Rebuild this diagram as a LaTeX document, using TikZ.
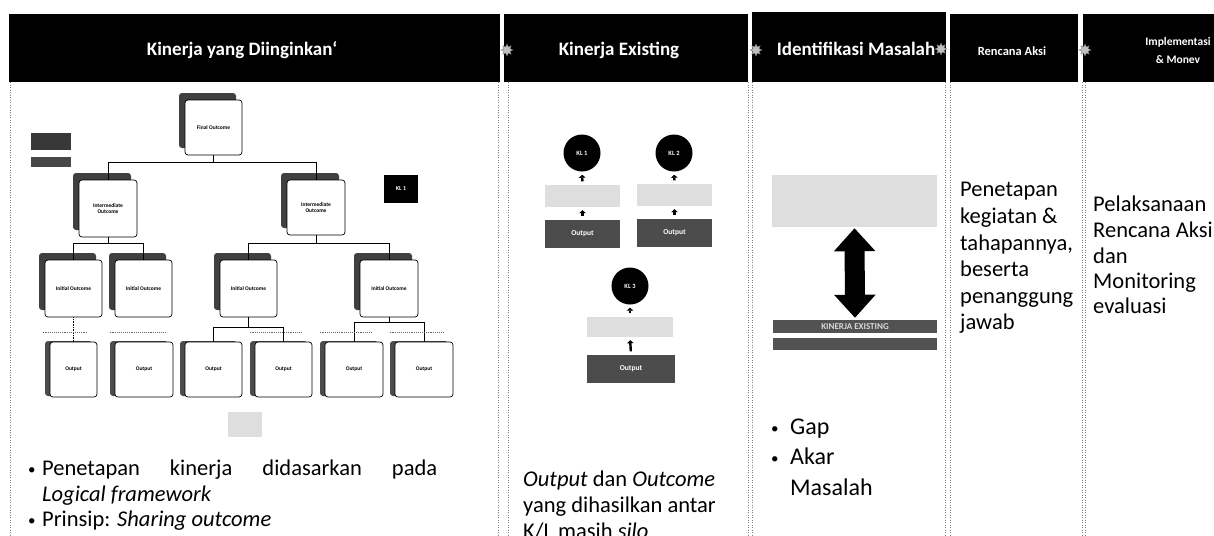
\documentclass[tikz,border=0pt]{standalone}
\usepackage{fontspec}
\setmainfont{Carlito}
\usetikzlibrary{shapes.geometric,shadows,arrows.meta,calc}
\newcommand{\smbul}{{\fontsize{15}{15}\selectfont\raisebox{0.5pt}{•}}}
\begin{document}
\begin{tikzpicture}[x=1pt,y=-1pt,
  hdr/.style={fill=black,draw=none,inner sep=0pt},
  hdrtxt/.style={text=white,font=\bfseries\fontsize{19}{22}\selectfont,inner sep=0pt},
  hdrsmall/.style={text=white,font=\bfseries\fontsize{12.5}{15}\selectfont,inner sep=0pt},
  colline/.style={draw=black!50,dotted,line width=0.5pt},
  card/.style={draw=black,fill=white,rounded corners=3pt,line width=0.7pt,inner sep=1pt,align=center,
     font=\bfseries\fontsize{5.5}{6.5}\selectfont,
     copy shadow={shadow xshift=-6pt,shadow yshift=7pt,fill=black!75,draw=none}},
  outcard/.style={draw=black,fill=white,rounded corners=3pt,line width=0.7pt,inner sep=1pt,align=center,
     font=\bfseries\fontsize{5.5}{6.5}\selectfont,minimum height=55pt,
     copy shadow={shadow xshift=-5pt,shadow yshift=1pt,fill=black!70,draw=none}},
  conn/.style={draw=black,line width=0.6pt},
  lbl/.style={draw=black!60,densely dotted,line width=0.9pt},
  klc/.style={circle,fill=black,minimum size=37pt,inner sep=0pt,text=white,font=\bfseries\fontsize{6.5}{7}\selectfont},
  noise/.style={fill=black!13,draw=none,inner sep=0pt},
  darkbox/.style={fill=black!70,draw=none,inner sep=0pt,text=white,font=\bfseries\fontsize{7.5}{8}\selectfont},
  smallarr/.style={line width=2.4pt,-{Triangle[length=3pt,width=6.5pt]},shorten <=3.5pt,shorten >=3pt},
  dbl/.style={line width=20pt,{Triangle[length=23pt,width=40pt]}-{Triangle[length=23pt,width=40pt]},shorten <=1pt,shorten >=2pt},
  starico/.style={star,star points=8,star point ratio=1.8,minimum size=12pt,inner sep=0pt,fill=black!25,draw=black!55,line width=0.3pt},
  body/.style={font=\fontsize{22.5}{26}\selectfont,inner sep=0pt},
  bodyb/.style={font=\fontsize{24}{29}\selectfont,inner sep=0pt}
]
\useasboundingbox (0,0) rectangle (1214,535);
\fill[white] (0,0) rectangle (1214,535);

% column separators
\foreach \xx in {10,498,508,748,752,945,950,1082,1085}
  \draw[colline] (\xx,82) -- (\xx,535);

% headers
\node[hdr,minimum width=491pt,minimum height=68pt] (h1) at (254.5,48) {};
\node[hdr,minimum width=244pt,minimum height=68pt] (h2) at (626,48) {};
\node[hdr,minimum width=194pt,minimum height=70pt] (h3) at (849,47) {};
\node[hdr,minimum width=128pt,minimum height=68pt] (h4) at (1014,48) {};
\node[hdr,minimum width=131pt,minimum height=68pt] (h5) at (1148.5,48) {};
\node[hdrtxt] (h1t) at (242,50) {Kinerja yang Diinginkan\symbol{96}};
\node[hdrtxt] (h2t) at (619,50) {Kinerja Existing};
\node[hdrtxt] (h3t) at (856,49) {Identifikasi Masalah};
\node[hdrsmall] (h4t) at (1012,51) {Rencana Aksi};
\node[text=white,font=\bfseries\fontsize{11.5}{18}\selectfont,inner sep=0pt,align=center] (h5t) at (1178,51) {Implementasi\\\& Monev};

% star icons between headers
\node[starico] (s1) at (507,50) {};
\node[starico] (s2) at (756,50) {};
\node[starico] (s3) at (941,49) {};
\node[starico] (s4) at (1085,50) {};

% ---------- column 1: logical framework ----------
\node[fill=black!78,minimum width=40pt,minimum height=17pt,inner sep=0pt] (lab1) at (51,141.5) {};
\node[fill=black!72,minimum width=40pt,minimum height=10pt,inner sep=0pt] (lab2) at (51,162) {};
\node[fill=black,minimum width=34pt,minimum height=28pt,inner sep=0pt,text=white,font=\bfseries\fontsize{6}{7}\selectfont] (kl1sq) at (401,189) {KL 1};

\node[card,minimum width=57pt,minimum height=55pt] (fo) at (213.5,127.5) {Final Outcome};
\node[card,minimum width=58pt,minimum height=57pt] (il) at (108,208.5) {Intermediate\\Outcome};
\node[card,minimum width=58pt,minimum height=55pt] (ir) at (316,207.5) {Intermediate\\Outcome};
\node[card,minimum width=57pt,minimum height=57pt] (i1) at (73.5,288.5) {Initial Outcome};
\node[card,minimum width=57pt,minimum height=57pt] (i2) at (143.5,288.5) {Initial Outcome};
\node[card,minimum width=57pt,minimum height=57pt] (i3) at (248.5,288.5) {Initial Outcome};
\node[card,minimum width=58pt,minimum height=57pt] (i4) at (389,288.5) {Initial Outcome};

\node[outcard,minimum width=47pt] (o1) at (73.5,369.5) {Output};
\node[outcard,minimum width=58pt] (o2) at (144,369.5) {Output};
\node[outcard,minimum width=57pt] (o3) at (213.5,369.5) {Output};
\node[outcard,minimum width=57pt] (o4) at (283.5,369.5) {Output};
\node[outcard,minimum width=58pt] (o5) at (354,369.5) {Output};
\node[outcard,minimum width=58pt] (o6) at (424,369.5) {Output};

\draw[conn] (fo.south) -- ++(0,7) -| (il.north);
\draw[conn] (fo.south) -- ++(0,7) -| (ir.north);
\draw[conn] (il.south) -- ++(0,6) -| (i1.north);
\draw[conn] (il.south) -- ++(0,6) -| (i2.north);
\draw[conn] (ir.south) -- ++(0,8) -| (i3.north);
\draw[conn] (ir.south) -- ++(0,8) -| (i4.north);
\draw[conn,densely dotted] (i1.south) -- (o1.north);
\draw[conn] (i3.south) -- ++(0,10) -| (o3.north);
\draw[conn] (i3.south) -- ++(0,10) -| (o4.north);
\draw[conn] (i4.south) -- ++(0,5) -| (o5.north);
\draw[conn] (i4.south) -- ++(0,5) -| (o6.north);

\draw[lbl] ($(o1.north west)+(-7,-9)$) -- ++(45,0);
\draw[lbl] ($(o2.north west)+(-5,-9)$) -- ++(57,0);
\draw[lbl] ($(o4.north west)+(-5,-9)$) -- ++(52,0);
\draw[lbl] ($(o5.north west)+(-5,-9)$) -- ++(53,0);
\draw[lbl] ($(o6.north west)+(-5,-9)$) -- ++(55,0);

\node[noise,minimum width=34pt,minimum height=25pt] (nz) at (245,424.5) {};

\node[body,anchor=base west] (p1) at (28,475) {\makebox[14pt][l]{\smbul}\hbox to 395pt{Penetapan\hfill kinerja\hfill didasarkan\hfill pada}};
\node[body,anchor=base west] (p2) at (42,501) {\textit{Logical framework}};
\node[body,anchor=base west] (p3) at (28,526) {\makebox[14pt][l]{\smbul}Prinsip: \textit{Sharing outcome}};

% ---------- column 2: existing ----------
\node[klc] (k1) at (582,153) {KL 1};
\node[klc] (k2) at (674,153) {KL 2};
\node[klc] (k3) at (630,286) {KL 3};
\node[noise,minimum width=75pt,minimum height=22pt] (b1) at (582.5,196) {};
\node[noise,minimum width=75pt,minimum height=22pt] (b2) at (674.5,195) {};
\node[noise,minimum width=86pt,minimum height=20pt] (b3) at (630,327) {};
\node[darkbox,minimum width=75pt,minimum height=28pt] (q1) at (582.5,234) {Output};
\node[darkbox,minimum width=75pt,minimum height=28pt] (q2) at (674.5,233) {Output};
\node[darkbox,minimum width=88pt,minimum height=28pt] (q3) at (631,369) {Output};
\draw[smallarr] (b1.north) -- (k1.south);
\draw[smallarr] (q1.north) -- (b1.south);
\draw[smallarr] (b2.north) -- (k2.south);
\draw[smallarr] (q2.north) -- (b2.south);
\draw[smallarr] (b3.north) -- (k3.south);
\draw[smallarr] (q3.north) -- (b3.south);

\node[body,anchor=base west] (e1) at (523,486) {\textit{Output} dan \textit{Outcome}};
\node[body,anchor=base west] (e2) at (523,512) {yang dihasilkan antar};
\node[body,anchor=base west] (e3) at (523,538) {K/L masih \textit{silo}};

% ---------- column 3: problems ----------
\node[noise,minimum width=165pt,minimum height=52pt] (tb) at (854.5,201) {};
\node[fill=black!68,minimum width=164pt,minimum height=13pt,inner sep=0pt,text=black!15,font=\bfseries\fontsize{9}{9}\selectfont] (st1) at (855,326.5) {KINERJA EXISTING};
\node[fill=black!68,minimum width=164pt,minimum height=12pt,inner sep=0pt] (st2) at (855,344) {};
\draw[dbl] (tb.south) -- (st1.north);

\node[bodyb,anchor=base west] (g1) at (771,434) {\makebox[19pt][l]{\smbul}Gap};
\node[bodyb,anchor=base west] (g2) at (771,464) {\makebox[19pt][l]{\smbul}Akar};
\node[bodyb,anchor=base west] (g3) at (790,495) {Masalah};

% ---------- column 4: action plan ----------
\node[body,anchor=base west] (r1) at (960,196) {Penetapan};
\node[body,anchor=base west] (r2) at (960,223) {kegiatan \&};
\node[body,anchor=base west] (r3) at (960,250) {tahapannya,};
\node[body,anchor=base west] (r4) at (960,276) {beserta};
\node[body,anchor=base west] (r5) at (960,303) {penanggung};
\node[body,anchor=base west] (r6) at (960,329) {jawab};

% ---------- column 5: implementation ----------
\node[body,anchor=base west] (m1) at (1093,211) {Pelaksanaan};
\node[body,anchor=base west] (m2) at (1093,237) {Rencana Aksi};
\node[body,anchor=base west] (m3) at (1093,263) {dan};
\node[body,anchor=base west] (m4) at (1093,288) {Monitoring};
\node[body,anchor=base west] (m5) at (1093,313) {evaluasi};
\end{tikzpicture}
\end{document}
